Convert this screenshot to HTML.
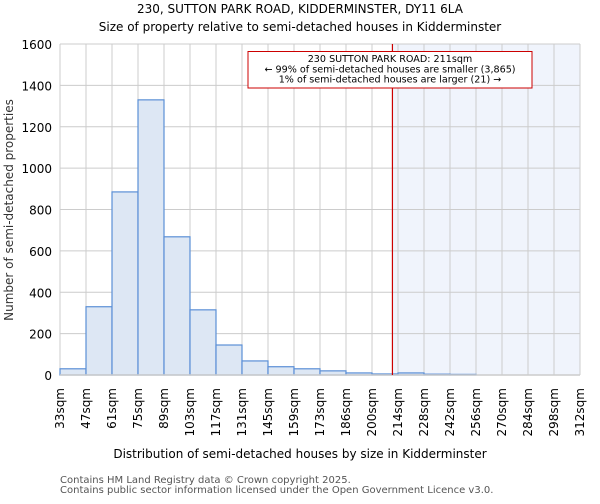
<!DOCTYPE html>
<html><head><meta charset="utf-8"><style>
body{margin:0;background:#fff;font-family:"DejaVu Sans","Liberation Sans",sans-serif;}
</style></head><body>
<svg width="600" height="500" xmlns="http://www.w3.org/2000/svg" font-family="DejaVu Sans, Liberation Sans, sans-serif">
<text x="300" y="13" text-anchor="middle" font-size="12">230, SUTTON PARK ROAD, KIDDERMINSTER, DY11 6LA</text>
<text x="300" y="31" text-anchor="middle" font-size="12">Size of property relative to semi-detached houses in Kidderminster</text>
<g id="plot"></g>
<text x="300" y="458" text-anchor="middle" font-size="12">Distribution of semi-detached houses by size in Kidderminster</text>
<text transform="translate(13,210) rotate(-90)" text-anchor="middle" font-size="12" fill="#333">Number of semi-detached properties</text>
<text x="60" y="483" font-size="10" fill="#555">Contains HM Land Registry data © Crown copyright 2025.</text>
<text x="60" y="493" font-size="10" fill="#555">Contains public sector information licensed under the Open Government Licence v3.0.</text>
</svg>
<script>
const binEdges=[33,47,61,75,89,103,117,131,145,159,173,186,200,214,228,242,256,270,284,298,312];
const counts=[30,330,885,1330,668,315,145,68,40,30,20,10,5,10,4,3,0,0,0,0];
const yTicks=[0,200,400,600,800,1000,1200,1400,1600];
const markerValue=211;
const L=60,R=580,T=44,B=375,YMAX=1600;
const n=counts.length;
const bw=(R-L)/n;
const xIdx=i=>L+i*bw;
const xVal=v=>{for(let i=0;i<binEdges.length-1;i++){if(v<=binEdges[i+1])return L+(i+(v-binEdges[i])/(binEdges[i+1]-binEdges[i]))*bw;}return R;};
const y=v=>B-v/YMAX*(B-T);
const NS='http://www.w3.org/2000/svg';
const g=document.getElementById('plot');
function mk(t,a){const e=document.createElementNS(NS,t);for(const k in a)e.setAttribute(k,a[k]);g.appendChild(e);return e;}
const mx=xVal(markerValue);
let e=mk('rect',{x:mx,y:T,width:R-mx,height:B-T,fill:'#f0f4fc'});


yTicks.forEach(t=>{let l=mk('line',{x1:L,x2:R,y1:y(t),y2:y(t),stroke:'#cccccc','stroke-width':1});


let tx=mk('text',{x:L-8,y:y(t)+5,'text-anchor':'end','font-size':12});tx.textContent=t;

});
binEdges.forEach((v,i)=>{let l=mk('line',{x1:xIdx(i),x2:xIdx(i),y1:T,y2:B,stroke:'#cccccc','stroke-width':1});


let tx=mk('text',{transform:`translate(${xIdx(i)+4},${B+13}) rotate(-90)`,'text-anchor':'end','font-size':12});tx.textContent=v+'sqm';

});
counts.forEach((c,i)=>{if(c<=0)return;let r=mk('rect',{x:xIdx(i),y:y(c),width:bw,height:B-y(c),fill:'#dde7f4',stroke:'#5b8fd6','stroke-width':1.2});

});
e=mk('line',{x1:L,x2:R,y1:B,y2:B,stroke:'#cccccc','stroke-width':1.5});


e=mk('line',{x1:mx,x2:mx,y1:T,y2:B,stroke:'#cc0000','stroke-width':1.2});


e=mk('rect',{x:248,y:51.5,width:284,height:36.5,fill:'#fff',stroke:'#cc0000','stroke-width':1});


['230 SUTTON PARK ROAD: 211sqm','← 99% of semi-detached houses are smaller (3,865)','1% of semi-detached houses are larger (21) →'].forEach((s,i)=>{
let tx=mk('text',{x:390,y:62+i*10.3,'text-anchor':'middle','font-size':9.6});tx.textContent=s;

});
</script>
</body></html>
